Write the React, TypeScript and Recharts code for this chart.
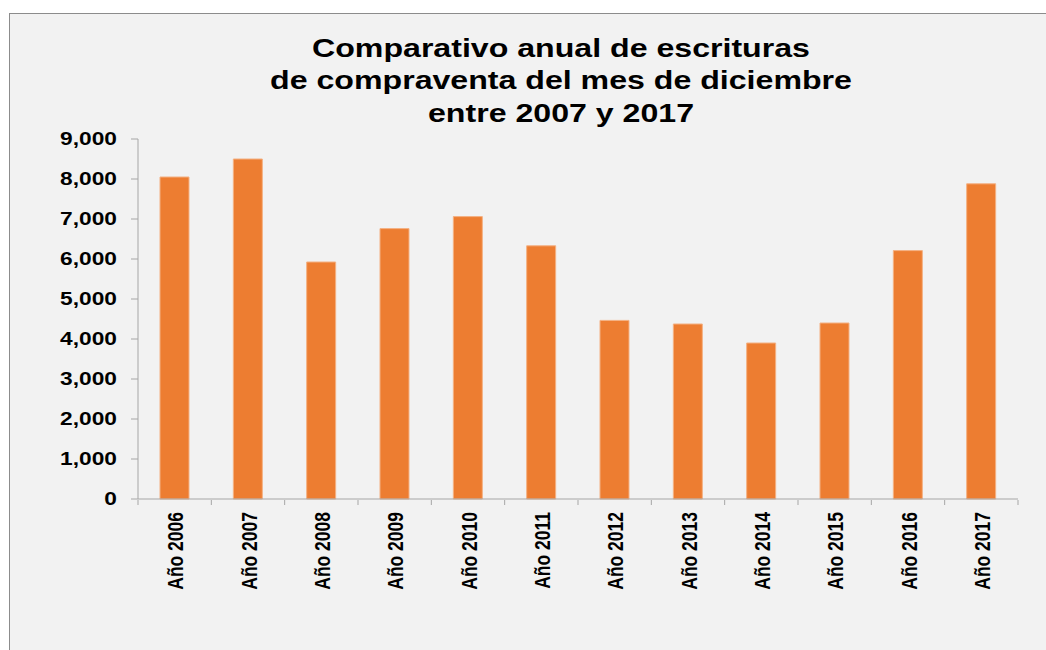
import React from 'react';
import { BarChart, Bar, XAxis, YAxis } from 'recharts';

const years = ['Año 2006', 'Año 2007', 'Año 2008', 'Año 2009', 'Año 2010', 'Año 2011', 'Año 2012', 'Año 2013', 'Año 2014', 'Año 2015', 'Año 2016', 'Año 2017'];
const escrituras = [8050, 8500, 5925, 6760, 7060, 6330, 4465, 4375, 3900, 4400, 6210, 7880];
const yTicks = [0, 1000, 2000, 3000, 4000, 5000, 6000, 7000, 8000, 9000];
const titleLines = ['Comparativo anual de escrituras', 'de compraventa del mes de diciembre', 'entre 2007 y 2017'];

const data = years.map((name, i) => ({ name, total: escrituras[i] }));

const FONT = '"Liberation Sans", Arial, sans-serif';
const PLOT_W = 1018 - 138;
const BAND = PLOT_W / years.length;
// the original picture is stretched sideways, so text is widened to match
const STRETCH = 1.28;

const fmt = (v: number) => v.toLocaleString('en-US');

function YearTick(props: any) {
  const { x, y, payload, index } = props;
  return (
    <g>
      <line x1={x - BAND / 2} y1={y - 7} x2={x - BAND / 2} y2={y - 2} stroke="#a6a6a6" />
      {index === years.length - 1 && (
        <line x1={x + BAND / 2} y1={y - 7} x2={x + BAND / 2} y2={y - 2} stroke="#a6a6a6" />
      )}
      <text
        x={0}
        y={0}
        transform={`translate(${x + 8.5}, ${y + 5}) scale(${STRETCH}, 1) rotate(-90)`}
        textAnchor="end"
        fontFamily={FONT}
        fontWeight="bold"
        fontSize={17.5}
        fill="#000"
      >
        {payload.value}
      </text>
    </g>
  );
}

function ValueTick(props: any) {
  const { y, payload } = props;
  return (
    <text
      x={0}
      y={0}
      dy="0.355em"
      transform={`translate(117, ${y}) scale(1.3, 1)`}
      textAnchor="end"
      fontFamily={FONT}
      fontWeight="bold"
      fontSize={17.5}
      fill="#000"
    >
      {fmt(payload.value)}
    </text>
  );
}

export default function App() {
  return (
    <div style={{ position: 'absolute', left: 0, top: 0, width: 1046, height: 650, background: '#fff', overflow: 'hidden' }}>
      <div style={{ position: 'absolute', left: 9, top: 13, width: 1060, height: 660, background: '#f2f2f2', border: '1px solid #8c8c8c' }} />
      <div style={{ position: 'absolute', left: 0, top: 0 }}>
        <BarChart width={1046} height={650} data={data} margin={{ top: 139, right: 28, left: 0, bottom: 51 }}>
          <text
            x={0}
            transform={`translate(561, 0) scale(1.25, 1)`}
            textAnchor="middle"
            fontFamily={FONT}
            fontWeight="bold"
            fontSize={25.7}
            fill="#000"
          >
            {titleLines.map((line, i) => (
              <tspan key={i} x={0} y={56.7 + i * 32.5}>{line}</tspan>
            ))}
          </text>
          <XAxis
            dataKey="name"
            interval={0}
            height={100}
            tickLine={false}
            axisLine={{ stroke: '#a6a6a6' }}
            tick={<YearTick />}
          />
          <YAxis
            width={138}
            domain={[0, 9000]}
            ticks={yTicks}
            interval={0}
            tickSize={7}
            tickLine={{ stroke: '#a6a6a6' }}
            axisLine={{ stroke: '#a6a6a6' }}
            tick={<ValueTick />}
          />
          <Bar dataKey="total" barSize={29} fill="#ED7D31" stroke="#F4B183" strokeWidth={1} isAnimationActive={false} />
        </BarChart>
      </div>
    </div>
  );
}
